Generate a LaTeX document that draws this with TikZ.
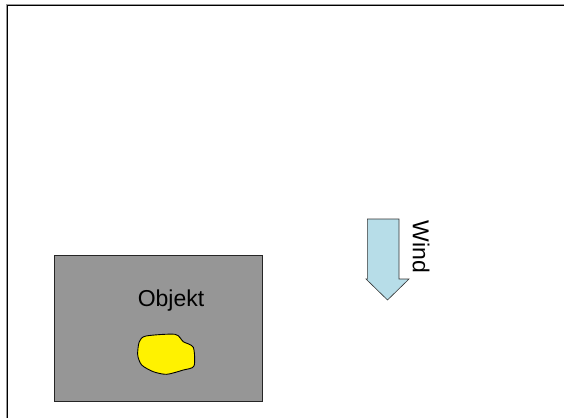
\documentclass[tikz,border=0pt]{standalone}
\usepackage{fontspec}
\setmainfont{Liberation Sans}
\usepackage{xcolor}
\usepackage{tikz}
\usetikzlibrary{positioning}

\definecolor{objgray}{HTML}{969696}
\definecolor{windblue}{HTML}{B7DDE8}

\tikzset{
	frameline/.style={line width=1.3pt, black},
	objbox/.style={draw=black!85, fill=objgray, line width=0.9pt},
	blob/.style={draw=black, fill=yellow, line width=0.9pt},
	windarrow/.style={draw=black!80, fill=windblue, line width=0.6pt},
	label/.style={font=\fontsize{23}{27}\selectfont, inner sep=0pt}
}

\begin{document}
\begin{tikzpicture}[x=1pt, y=-1pt]
	\useasboundingbox (0,0) rectangle (564,418);
	\fill[white] (0,0) rectangle (564,418);

	% frame
	\draw[black!40, line width=1pt] (6,418) -- (6,4) -- (564,4);
	\draw[frameline] (7.4,418) -- (7.4,5.4) -- (564,5.4);

	% object
	\draw[objbox] (54,255) rectangle (262,401);
	\node[label] (obj) at (171,301) {Objekt};
	\draw[blob] plot[smooth cycle, tension=0.45] coordinates {
		(146,336) (175,334.3) (183.3,341.7) (193.3,347.3) (194,366)
		(183.3,370) (166.7,374.3) (153.3,371.7) (141.7,365) (137.7,355) (139.3,341.7)};

	% wind
	\draw[windarrow] (367.3,219) -- (399,219) -- (399,279) -- (409,279)
		-- (387.5,300) -- (366,279) -- (367.3,279) -- cycle;
	\node[label, rotate=-90] (wind) at (421,247) {Wind};
\end{tikzpicture}
\end{document}
